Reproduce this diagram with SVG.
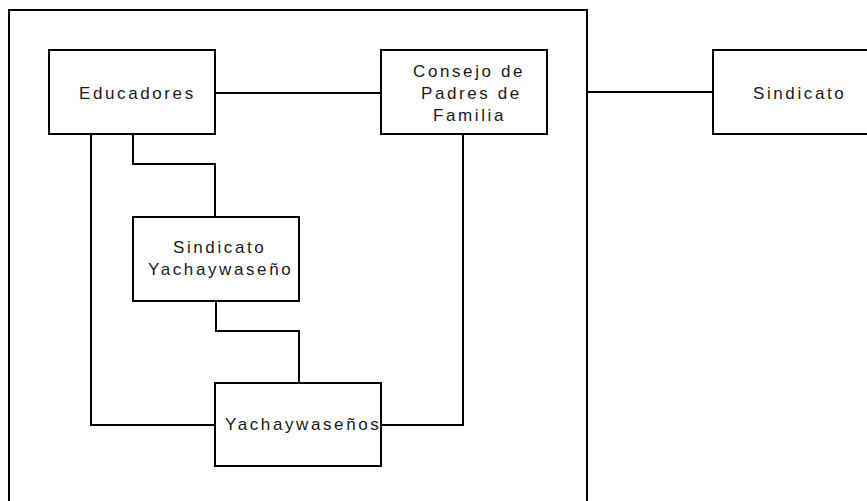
<svg xmlns="http://www.w3.org/2000/svg" width="867" height="501" viewBox="0 0 867 501">
<style>
.box{fill:#fff;stroke:#000;stroke-width:2}
.ln{fill:none;stroke:#000;stroke-width:2}
text{font-family:"Liberation Sans",Arial,sans-serif;font-size:17px;letter-spacing:2.6px;fill:#1a1a1a}
</style>
<rect width="867" height="501" fill="#fff"/>
<g id="frame"><rect class="box" x="9" y="10" width="578" height="520"/></g>
<g id="connectors">
<path class="ln" d="M215 93H381"/>
<path class="ln" d="M587 92H713"/>
<path class="ln" d="M463 134V425H381"/>
<path class="ln" d="M91 134V425H215"/>
<path class="ln" d="M133 134V164H215V217"/>
<path class="ln" d="M216 300V331H299V383"/>
</g>
<g id="educadores"><rect class="box" x="49" y="50" width="166" height="84"/><text x="79" y="99">Educadores</text></g>
<g id="consejo"><rect class="box" x="381" y="50" width="166" height="84"/>
<text x="413" y="76.5">Consejo de</text><text x="421" y="98.5">Padres de</text><text x="433" y="120.5">Familia</text></g>
<g id="sindicato"><rect class="box" x="713" y="50" width="166" height="84"/><text x="753" y="99">Sindicato</text></g>
<g id="sindicato-yachaywaseno"><rect class="box" x="133" y="217" width="166" height="84"/>
<text x="173" y="253">Sindicato</text><text x="148" y="275">Yachaywaseño</text></g>
<g id="yachaywasenos"><rect class="box" x="215" y="383" width="166" height="83"/><text x="225" y="430">Yachaywaseños</text></g>
</svg>
